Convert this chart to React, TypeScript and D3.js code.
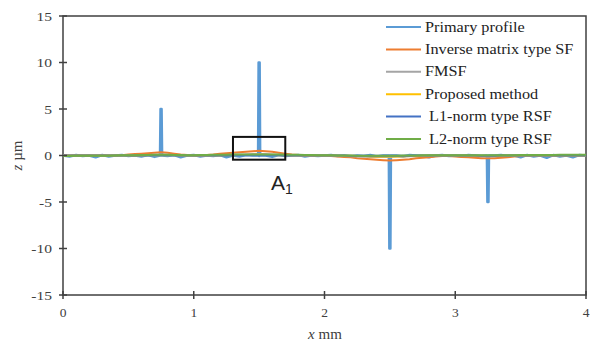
import React from "react";
import * as d3 from "d3";

const xTicks = [0, 1, 2, 3, 4];
const yTicks = [-15, -10, -5, 0, 5, 10, 15];

// base grid x (mm), step 0.05
const baseX = d3.range(0, 81).map((i) => +(i * 0.05).toFixed(2));

const primaryBase = [
  0, -0.1, 0.05, -0.05, 0, -0.2, 0.05, -0.1, 0, 0.05, -0.05, 0, -0.1, 0.05, -0.15, 0, -0.05, 0.05, -0.2, 0, 0.05,
  -0.1, 0, -0.05, 0.05, -0.2, 0, -0.1, 0.05, 0, -0.05, 0, -0.15, 0.05, -0.05, 0, 0.05, -0.1, 0, -0.05, 0,
  0.05, -0.05, 0, -0.1, 0, -0.05, 0.05, -0.1, 0, -0.05, 0, -0.1, 0.05, 0, -0.05, -0.2, 0, 0.05, -0.05, 0,
  -0.1, 0.05, 0, -0.05, -0.1, 0, 0.05, -0.05, 0, -0.2, 0.05, -0.1, 0, -0.25, 0.05, -0.1, 0, -0.2, 0.05, 0,
];
const spikeX = [0.75, 1.5, 2.5, 3.25];
const spikeZ = [5, 10, -10, -5];

const inverseSF = [
  0, 0, 0, 0, 0, 0, 0, 0, 0, 0.02, 0.1, 0.15, 0.2, 0.25, 0.3, 0.35, 0.3, 0.2, 0.1, 0.05, 0,
  0, 0.05, 0.1, 0.2, 0.25, 0.3, 0.35, 0.4, 0.45, 0.5, 0.45, 0.4, 0.3, 0.2, 0.1, 0.05, 0, 0, 0, 0,
  -0.05, -0.1, -0.15, -0.2, -0.3, -0.35, -0.4, -0.45, -0.5, -0.55, -0.5, -0.45, -0.4, -0.3, -0.25, -0.2, -0.1, -0.05, -0.05, -0.1,
  -0.15, -0.2, -0.25, -0.3, -0.3, -0.3, -0.25, -0.2, -0.1, -0.05, 0, 0, 0, 0, 0, 0, 0, 0, 0, 0,
];
const fmsf = [
  0, 0, 0, 0, 0, 0, 0, 0, 0, 0, 0, 0, 0, 0.05, 0.08, 0.1, 0.08, 0.05, 0, 0, 0,
  0, 0, 0, 0.02, 0.05, 0.08, 0.1, 0.12, 0.15, 0.15, 0.15, 0.12, 0.08, 0.05, 0.02, 0, 0, 0, 0, 0,
  0, -0.02, -0.05, -0.08, -0.1, -0.12, -0.15, -0.15, -0.15, -0.15, -0.12, -0.1, -0.08, -0.05, -0.02, 0, 0, 0, 0, 0,
  0, -0.02, -0.05, -0.08, -0.1, -0.08, -0.05, -0.02, 0, 0, 0, 0, 0, 0, 0, 0, 0, 0, 0, 0,
];
const proposed = [
  0, 0, 0, 0, 0, 0, 0, 0, 0, 0, 0, 0, 0, 0.02, 0.03, 0.05, 0.03, 0.02, 0, 0, 0,
  0, 0, 0, 0, 0.02, 0.03, 0.05, 0.05, 0.06, 0.08, 0.06, 0.05, 0.03, 0.02, 0, 0, 0, 0, 0, 0,
  0, 0, -0.02, -0.03, -0.05, -0.06, -0.08, -0.1, -0.1, -0.1, -0.1, -0.08, -0.06, -0.05, -0.03, 0, 0, 0, 0, 0,
  0, 0, -0.02, -0.03, -0.05, -0.03, -0.02, 0, 0, 0, 0, 0, 0, 0, 0, 0, 0, 0, 0, 0,
];
const l1RSF = [
  0, 0, 0, 0, 0, 0, 0, 0, 0, 0, 0, 0, 0, 0, 0.02, 0.02, 0.02, 0, 0, 0, 0,
  0, 0, 0, 0, 0, 0.02, 0.02, 0.03, 0.03, 0.03, 0.03, 0.02, 0.02, 0, 0, 0, 0, 0, 0, 0,
  0, 0, 0, -0.02, -0.02, -0.03, -0.03, -0.03, -0.03, -0.03, -0.03, -0.02, -0.02, 0, 0, 0, 0, 0, 0, 0,
  0, 0, 0, -0.02, -0.02, -0.02, 0, 0, 0, 0, 0, 0, 0, 0, 0, 0, 0, 0, 0, 0,
];
const l2RSF = [
  -0.05, -0.05, -0.04, -0.04, -0.03, -0.03, -0.02, -0.02, 0, 0.02, 0.03, 0.04, 0.05, 0.06, 0.07, 0.08, 0.07, 0.06, 0.05, 0.04, 0.04,
  0.05, 0.06, 0.07, 0.08, 0.09, 0.1, 0.1, 0.1, 0.1, 0.1, 0.1, 0.1, 0.1, 0.09, 0.08, 0.07, 0.06, 0.05, 0.04, 0.03,
  0.02, 0.01, 0, -0.01, -0.02, -0.03, -0.03, -0.03, -0.03, -0.03, -0.02, -0.01, 0, 0.01, 0.02, 0.02, 0.03, 0.03, 0.03, 0.03,
  0.03, 0.03, 0.03, 0.03, 0.03, 0.03, 0.03, 0.04, 0.04, 0.05, 0.05, 0.05, 0.06, 0.06, 0.06, 0.07, 0.07, 0.07, 0.08, 0.08,
];

const seriesNames = [
  "Primary profile",
  "Inverse matrix type SF",
  "FMSF",
  "Proposed method",
  " L1-norm type RSF",
  " L2-norm type RSF",
];
const seriesColors = ["#5B9BD5", "#ED7D31", "#A5A5A5", "#FFC000", "#4472C4", "#70AD47"];

// zoomed region A1 (x mm, z µm)
const boxX = [1.3, 1.7];
const boxZ = [-0.45, 2.0];

const W = 590;
const H = 347;
const m = { left: 63, right: 586, top: 16, bottom: 295 };

export default function App() {
  const x = d3.scaleLinear().domain([0, 4]).range([m.left, m.right]);
  const y = d3.scaleLinear().domain([-15, 15]).range([m.bottom, m.top]);

  // primary profile: base plus narrow spikes
  const primaryPts: [number, number][] = baseX.map((xv, i) => [xv, primaryBase[i]]);
  spikeX.forEach((sx, k) => {
    primaryPts.push([sx - 0.008, 0]);
    primaryPts.push([sx - 0.004, spikeZ[k]]);
    primaryPts.push([sx + 0.004, spikeZ[k]]);
    primaryPts.push([sx + 0.008, 0]);
  });
  primaryPts.sort((a, b) => a[0] - b[0]);

  const line = d3
    .line<[number, number]>()
    .x((d) => x(d[0]))
    .y((d) => y(d[1]));

  const others = [inverseSF, fmsf, proposed, l1RSF, l2RSF];
  const paths = [line(primaryPts)].concat(
    others.map((arr) => line(baseX.map((xv, i) => [xv, arr[i]] as [number, number])))
  );

  const axisColor = "#404040";
  const serif = "'Liberation Serif', 'Times New Roman', serif";

  return (
    <svg
      width={W}
      height={H}
      style={{ position: "absolute", left: 0, top: 0, background: "#fff" }}
    >
      {/* frame */}
      <rect
        x={m.left}
        y={m.top}
        width={m.right - m.left}
        height={m.bottom - m.top}
        fill="none"
        stroke={axisColor}
        strokeWidth={1.5}
      />
      {/* series */}
      {paths.map((p, i) => (
        <path
          key={i}
          d={p || ""}
          fill="none"
          stroke={seriesColors[i]}
          strokeWidth={i === 0 ? 2.5 : 2}
          strokeLinejoin="round"
        />
      ))}
      {/* y ticks */}
      {yTicks.map((t) => (
        <g key={"y" + t} transform={`translate(${m.left - 11}, ${y(t)}) scale(1.15, 1)`}>
          <text
            x={0}
            y={0}
            dy="0.35em"
            textAnchor="end"
            fontFamily={serif}
            fontSize={13.5}
            fill="#404040"
          >
            {t}
          </text>
        </g>
      ))}
      {yTicks.map((t) => (
        <line key={"yl" + t} x1={m.left - 4} x2={m.left + 4} y1={y(t)} y2={y(t)} stroke={axisColor} strokeWidth={1.5} />
      ))}
      {/* x ticks */}
      {xTicks.map((t) => (
        <g key={"x" + t}>
          <line x1={x(t)} x2={x(t)} y1={m.bottom - 4} y2={m.bottom + 4} stroke={axisColor} strokeWidth={1.5} />
          <text
            x={x(t)}
            y={m.bottom + 22}
            textAnchor="middle"
            fontFamily={serif}
            fontSize={13.5}
            fill="#404040"
          >
            {t}
          </text>
        </g>
      ))}
      {/* axis titles */}
      <text x={325} y={339} textAnchor="middle" fontFamily={serif} fontSize={15} fill="#404040">
        <tspan fontStyle="italic">x</tspan> mm
      </text>
      <text
        transform={`translate(22, ${y(0)}) rotate(-90)`}
        textAnchor="middle"
        fontFamily={serif}
        fontSize={15}
        fill="#404040"
      >
        <tspan fontStyle="italic">z</tspan> µm
      </text>
      {/* box A1 */}
      <rect
        x={x(boxX[0])}
        y={y(boxZ[1])}
        width={x(boxX[1]) - x(boxX[0])}
        height={y(boxZ[0]) - y(boxZ[1])}
        fill="none"
        stroke="#111"
        strokeWidth={2}
      />
      <text x={271} y={190} fontFamily="'Liberation Sans', Arial, sans-serif" fontSize={21} fill="#222">
        A<tspan fontSize={14} dy={4}>1</tspan>
      </text>
      {/* legend */}
      {seriesNames.map((n, i) => {
        const ly = 27 + i * 22.4;
        return (
          <g key={n}>
            <line x1={386} x2={421} y1={ly} y2={ly} stroke={seriesColors[i]} strokeWidth={2} />
            <g transform={`translate(425, ${ly}) scale(1.16, 1)`}>
              <text
                x={0}
                y={0}
                dy="0.33em"
                fontFamily={serif}
                fontSize={14}
                fill="#222"
                style={{ whiteSpace: "pre" }}
              >
                {n}
              </text>
            </g>
          </g>
        );
      })}
    </svg>
  );
}
